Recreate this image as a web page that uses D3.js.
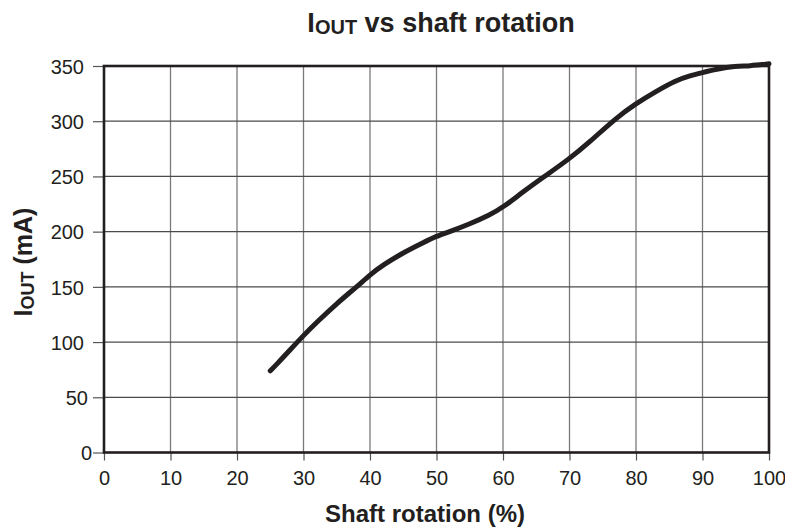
<!DOCTYPE html>
<html><head><meta charset="utf-8">
<script src="https://cdn.jsdelivr.net/npm/d3@7"></script>
<style>
body{margin:0;background:#fff;}
text{font-family:"Liberation Sans","Arial",sans-serif;fill:#231f20;}
</style></head>
<body><svg id="c" width="785" height="531"></svg>
<script>
const rotation = [25, 26, 28, 30, 32, 35, 38, 40, 42, 45, 48, 50, 52, 55, 58, 60, 63, 66, 70, 73, 77, 80, 83, 86, 88, 90, 92, 95, 97, 100];
const iout = [74, 80, 93, 106, 118, 135, 150, 161, 170, 181, 190, 196, 200, 207, 215, 222, 236, 249, 266, 281, 303, 316, 327, 337, 341, 344, 347, 350, 350, 352];
const xTicks = [0,10,20,30,40,50,60,70,80,90,100];
const yTicks = [0,50,100,150,200,250,300,350];

const svg = d3.select("#c");
const L=104, R=769, T=66, B=452.5;
const x = d3.scaleLinear().domain([0,100]).range([L,R]);
const y = d3.scaleLinear().domain([0,350]).range([B,T]);
const ink="#231f20";

// grid
svg.append("g").selectAll("line").data(xTicks.slice(1,-1)).join("line")
  .attr("x1",d=>x(d)).attr("x2",d=>x(d)).attr("y1",T).attr("y2",B)
  .attr("stroke","#7a7a7a").attr("stroke-width",1.3);
svg.append("g").selectAll("line").data(yTicks.slice(1,-1)).join("line")
  .attr("x1",L).attr("x2",R).attr("y1",d=>y(d)).attr("y2",d=>y(d))
  .attr("stroke","#4a4a4a").attr("stroke-width",1.3);

// axes
const ya = d3.axisLeft(y).tickValues(yTicks).tickSize(11).tickPadding(1);
const gy = svg.append("g").attr("transform",`translate(${L},0)`).call(ya);
const xa = d3.axisBottom(x).tickValues(xTicks).tickSize(8).tickPadding(10);
const gx = svg.append("g").attr("transform",`translate(0,${B})`).call(xa);
[gy,gx].forEach(g=>{
  g.select(".domain").remove();
  g.selectAll(".tick line").attr("stroke","#555").attr("stroke-width",1.2);
  g.selectAll(".tick text").style("font-size","20px").attr("fill",ink);
});
gy.selectAll(".tick text").attr("dy","0.36em")
  .attr("x",d=>-(12 + 4*(String(d).length-1)));

// frame
svg.append("rect").attr("x",L).attr("y",T).attr("width",R-L).attr("height",B-T)
  .attr("fill","none").attr("stroke",ink).attr("stroke-width",2.6);

// curve
const line = d3.line().x(d=>x(d[0])).y(d=>y(d[1])).curve(d3.curveBasis);
svg.append("path").datum(rotation.map((r,i)=>[r,iout[i]]))
  .attr("d",line).attr("fill","none").attr("stroke",ink)
  .attr("stroke-width",5).attr("stroke-linecap","round").attr("stroke-linejoin","round");

// title
const t = svg.append("text").attr("x",441).attr("y",32).attr("text-anchor","middle")
  .style("font-size","27px").style("font-weight","bold");
t.append("tspan").text("I");
t.append("tspan").text("OUT").style("font-size","20px").attr("dy",2);
t.append("tspan").text(" vs shaft rotation").attr("dy",-2);

// x label
svg.append("text").attr("x",425).attr("y",522).attr("text-anchor","middle")
  .style("font-size","24px").style("font-weight","bold").text("Shaft rotation (%)");

// y label
const yl = svg.append("text").attr("transform","translate(32,262) rotate(-90)")
  .attr("text-anchor","middle").style("font-size","25px").style("font-weight","bold");
yl.append("tspan").text("I");
yl.append("tspan").text("OUT").style("font-size","18px").attr("dy",2);
yl.append("tspan").text(" (mA)").attr("dy",-2);
</script></body></html>
